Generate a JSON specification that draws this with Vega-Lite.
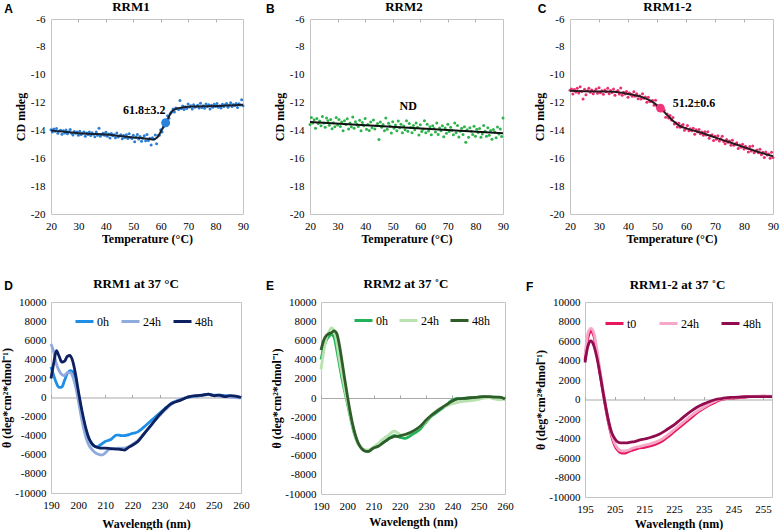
{
"$schema":"https://vega.github.io/schema/vega-lite/v6.json",
"background":"white",
"padding":{"left":0,"top":0,"right":0,"bottom":0},
"autosize":{"type":"pad"},
"columns":1,
"spacing":32,
"config":{
 "view":{"stroke":"#c4c4c4","strokeWidth":1},
 "font":"Liberation Serif, Times New Roman, serif",
 "axis":{"labelFont":"Liberation Serif, Times New Roman, serif","labelFontSize":11,"labelColor":"#000","titleFont":"Liberation Serif, Times New Roman, serif","titleFontSize":12,"titleFontWeight":"bold","titleColor":"#000","domain":false,"ticks":false,"grid":false,"labelOverlap":false,"labelFlush":false,"tickCount":30},
 "axisX":{"labelPadding":6,"titlePadding":2},
 "axisY":{"labelPadding":6,"titlePadding":3},
 "title":{"font":"Liberation Serif, Times New Roman, serif","fontSize":13,"fontWeight":"bold","color":"#000","anchor":"middle","frame":"group","baseline":"alphabetic","offset":-11},
 "legend":{"labelFont":"Liberation Serif, Times New Roman, serif","labelFontSize":12,"labelColor":"#000","symbolType":"stroke","symbolSize":324,"symbolStrokeWidth":3,"columnPadding":3,"labelOffset":2,"padding":0,"gridAlign":"none"}
},
"resolve":{"scale":{"color":"independent"},"legend":{"color":"independent"}},
"datasets":{
 "ptsA":[{"t":20,"v":-13.95},{"t":20.5,"v":-14.11},{"t":21,"v":-13.9},{"t":21.5,"v":-14.06},{"t":22,"v":-13.86},{"t":22.5,"v":-14.2},{"t":23,"v":-14.04},{"t":23.5,"v":-13.98},{"t":24,"v":-14.28},{"t":24.5,"v":-14.03},
 {"t":25,"v":-14.18},{"t":25.5,"v":-13.97},{"t":26,"v":-14.24},{"t":26.5,"v":-14.1},{"t":27,"v":-13.94},{"t":27.5,"v":-14.21},{"t":28,"v":-14.32},{"t":28.5,"v":-14.07},{"t":29,"v":-14.2},{"t":29.5,"v":-14.12},
 {"t":30,"v":-14.34},{"t":30.5,"v":-14.05},{"t":31,"v":-14.3},{"t":31.5,"v":-14.21},{"t":32,"v":-14.11},{"t":32.5,"v":-14.41},{"t":33,"v":-14.19},{"t":33.5,"v":-14.29},{"t":34,"v":-14.11},{"t":34.5,"v":-14.36},
 {"t":35,"v":-14.17},{"t":35.5,"v":-14.27},{"t":36,"v":-14.45},{"t":36.5,"v":-14.12},{"t":37,"v":-14.34},{"t":37.5,"v":-13.85},{"t":38,"v":-14.41},{"t":38.5,"v":-14.29},{"t":39,"v":-14.2},{"t":39.5,"v":-14.34},
 {"t":40,"v":-14.13},{"t":40.5,"v":-14.41},{"t":41,"v":-14.26},{"t":41.5,"v":-14.54},{"t":42,"v":-14.22},{"t":42.5,"v":-14.38},{"t":43,"v":-14.31},{"t":43.5,"v":-14.52},{"t":44,"v":-14.19},{"t":44.5,"v":-14.47},
 {"t":45,"v":-14.38},{"t":45.5,"v":-14.31},{"t":46,"v":-14.59},{"t":46.5,"v":-14.36},{"t":47,"v":-14.5},{"t":47.5,"v":-14.31},{"t":48,"v":-14.58},{"t":48.5,"v":-14.23},{"t":49,"v":-14.5},{"t":49.5,"v":-14.58},
 {"t":50,"v":-14.34},{"t":50.5,"v":-14.81},{"t":51,"v":-14.48},{"t":51.5,"v":-14.29},{"t":52,"v":-14.62},{"t":52.5,"v":-14.43},{"t":53,"v":-14.77},{"t":53.5,"v":-14.56},{"t":54,"v":-14.39},{"t":54.5,"v":-14.74},
 {"t":55,"v":-14.29},{"t":55.5,"v":-14.72},{"t":56,"v":-14.56},{"t":56.5,"v":-15.05},{"t":57,"v":-14.52},{"t":57.5,"v":-14.64},{"t":58,"v":-14.33},{"t":58.5,"v":-14.95},{"t":59,"v":-14.36},{"t":59.5,"v":-14.34},
 {"t":60,"v":-13.95},{"t":60.5,"v":-14.12},{"t":61,"v":-13.73},{"t":61.5,"v":-13.48},{"t":62,"v":-13.48},{"t":62.5,"v":-12.95},{"t":63,"v":-13.13},{"t":63.5,"v":-12.78},{"t":64,"v":-12.68},{"t":64.5,"v":-12.46},
 {"t":65,"v":-12.68},{"t":65.5,"v":-12.39},{"t":66,"v":-12.42},{"t":66.5,"v":-12.49},{"t":67,"v":-11.85},{"t":67.5,"v":-12.43},{"t":68,"v":-12.24},{"t":68.5,"v":-12.49},{"t":69,"v":-12.3},{"t":69.5,"v":-12.43},
 {"t":70,"v":-12.1},{"t":70.5,"v":-12.32},{"t":71,"v":-12.22},{"t":71.5,"v":-12.46},{"t":72,"v":-12.15},{"t":72.5,"v":-12.34},{"t":73,"v":-12.28},{"t":73.5,"v":-12.19},{"t":74,"v":-12.39},{"t":74.5,"v":-12.05},
 {"t":75,"v":-12.35},{"t":75.5,"v":-12.23},{"t":76,"v":-12.41},{"t":76.5,"v":-12.11},{"t":77,"v":-12.28},{"t":77.5,"v":-12.16},{"t":78,"v":-12.46},{"t":78.5,"v":-12.2},{"t":79,"v":-12.34},{"t":79.5,"v":-12.12},
 {"t":80,"v":-12.29},{"t":80.5,"v":-12.07},{"t":81,"v":-12.34},{"t":81.5,"v":-12.22},{"t":82,"v":-12.39},{"t":82.5,"v":-12.12},{"t":83,"v":-12.28},{"t":83.5,"v":-12.15},{"t":84,"v":-12.06},{"t":84.5,"v":-12.34},
 {"t":85,"v":-12.2},{"t":85.5,"v":-12.01},{"t":86,"v":-12.28},{"t":86.5,"v":-12.14},{"t":87,"v":-12.21},{"t":87.5,"v":-12.06},{"t":88,"v":-12.35},{"t":88.5,"v":-12.09},{"t":89,"v":-12.18},{"t":89.5,"v":-11.8},
 {"t":90,"v":-12.22}],
 "fitA":[{"t":20,"v":-14.0},{"t":25,"v":-14.1},{"t":30,"v":-14.2},{"t":35,"v":-14.25},{"t":40,"v":-14.3},{"t":45,"v":-14.4},{"t":50,"v":-14.5},{"t":55,"v":-14.6},{"t":57,"v":-14.65},{"t":58,"v":-14.6},{"t":59,"v":-14.45},{"t":60,"v":-14.1},{"t":61,"v":-13.75},{"t":62,"v":-13.4},{"t":63,"v":-13.0},{"t":64,"v":-12.65},{"t":65,"v":-12.5},{"t":66,"v":-12.42},{"t":68,"v":-12.35},{"t":70,"v":-12.3},{"t":80,"v":-12.25},{"t":90,"v":-12.15}],
 "tmA":[{"t":61.8,"v":-13.45,"lab":"61.8±3.2"}],
 "ptsB":[{"t":20,"v":-13.57},{"t":20.5,"v":-13.07},{"t":21,"v":-13.46},{"t":21.5,"v":-13.23},{"t":22,"v":-13.85},{"t":22.5,"v":-13.14},{"t":23,"v":-13.51},{"t":23.5,"v":-13.32},{"t":24,"v":-13.66},{"t":24.5,"v":-13.0},
 {"t":25,"v":-13.46},{"t":25.5,"v":-13.78},{"t":26,"v":-13.11},{"t":26.5,"v":-13.31},{"t":27,"v":-13.62},{"t":27.5,"v":-13.22},{"t":28,"v":-13.88},{"t":28.5,"v":-13.45},{"t":29,"v":-13.74},{"t":29.5,"v":-13.08},
 {"t":30,"v":-13.61},{"t":30.5,"v":-13.21},{"t":31,"v":-13.72},{"t":31.5,"v":-13.39},{"t":32,"v":-14.02},{"t":32.5,"v":-13.3},{"t":33,"v":-13.57},{"t":33.5,"v":-13.17},{"t":34,"v":-13.9},{"t":34.5,"v":-13.47},
 {"t":35,"v":-13.74},{"t":35.5,"v":-13.03},{"t":36,"v":-13.85},{"t":36.5,"v":-13.37},{"t":37,"v":-13.57},{"t":37.5,"v":-13.72},{"t":38,"v":-13.27},{"t":38.5,"v":-14.02},{"t":39,"v":-13.43},{"t":39.5,"v":-13.67},
 {"t":40,"v":-13.15},{"t":40.5,"v":-13.92},{"t":41,"v":-13.57},{"t":41.5,"v":-14.01},{"t":42,"v":-13.39},{"t":42.5,"v":-13.8},{"t":43,"v":-13.26},{"t":43.5,"v":-13.89},{"t":44,"v":-13.67},{"t":44.5,"v":-13.51},
 {"t":45,"v":-14.65},{"t":45.5,"v":-13.4},{"t":46,"v":-13.77},{"t":46.5,"v":-13.58},{"t":47,"v":-14.02},{"t":47.5,"v":-13.11},{"t":48,"v":-13.91},{"t":48.5,"v":-13.49},{"t":49,"v":-13.68},{"t":49.5,"v":-14.19},
 {"t":50,"v":-13.38},{"t":50.5,"v":-13.85},{"t":51,"v":-13.61},{"t":51.5,"v":-14.02},{"t":52,"v":-13.33},{"t":52.5,"v":-13.8},{"t":53,"v":-13.56},{"t":53.5,"v":-14.17},{"t":54,"v":-13.69},{"t":54.5,"v":-13.96},
 {"t":55,"v":-13.3},{"t":55.5,"v":-14.05},{"t":56,"v":-13.5},{"t":56.5,"v":-13.79},{"t":57,"v":-14.16},{"t":57.5,"v":-13.64},{"t":58,"v":-13.95},{"t":58.5,"v":-13.46},{"t":59,"v":-13.77},{"t":59.5,"v":-14.33},
 {"t":60,"v":-13.59},{"t":60.5,"v":-14.08},{"t":61,"v":-13.92},{"t":61.5,"v":-13.3},{"t":62,"v":-14.17},{"t":62.5,"v":-13.55},{"t":63,"v":-14.04},{"t":63.5,"v":-13.73},{"t":64,"v":-14.31},{"t":64.5,"v":-13.67},
 {"t":65,"v":-13.87},{"t":65.5,"v":-14.11},{"t":66,"v":-13.47},{"t":66.5,"v":-14.29},{"t":67,"v":-13.82},{"t":67.5,"v":-14.02},{"t":68,"v":-13.66},{"t":68.5,"v":-14.46},{"t":69,"v":-13.82},{"t":69.5,"v":-14.21},
 {"t":70,"v":-13.56},{"t":70.5,"v":-14.07},{"t":71,"v":-13.77},{"t":71.5,"v":-13.99},{"t":72,"v":-14.31},{"t":72.5,"v":-13.47},{"t":73,"v":-14.17},{"t":73.5,"v":-13.65},{"t":74,"v":-14.47},{"t":74.5,"v":-14.05},
 {"t":75,"v":-13.84},{"t":75.5,"v":-14.3},{"t":76,"v":-13.73},{"t":76.5,"v":-14.85},{"t":77,"v":-13.96},{"t":77.5,"v":-14.49},{"t":78,"v":-13.8},{"t":78.5,"v":-14.05},{"t":79,"v":-14.29},{"t":79.5,"v":-13.7},
 {"t":80,"v":-14.42},{"t":80.5,"v":-13.92},{"t":81,"v":-14.15},{"t":81.5,"v":-13.86},{"t":82,"v":-14.49},{"t":82.5,"v":-14.26},{"t":83,"v":-13.64},{"t":83.5,"v":-14.05},{"t":84,"v":-14.42},{"t":84.5,"v":-13.8},
 {"t":85,"v":-14.34},{"t":85.5,"v":-14.0},{"t":86,"v":-14.63},{"t":86.5,"v":-13.94},{"t":87,"v":-14.12},{"t":87.5,"v":-14.53},{"t":88,"v":-13.75},{"t":88.5,"v":-14.26},{"t":89,"v":-13.9},{"t":89.5,"v":-14.43},
 {"t":90,"v":-13.1}],
 "fitB":[{"t":20,"v":-13.4},{"t":90,"v":-14.2}],
 "ptsC":[{"t":20,"v":-11.12},{"t":20.5,"v":-11.02},{"t":21,"v":-11.38},{"t":21.5,"v":-11.07},{"t":22,"v":-11.24},{"t":22.5,"v":-10.98},{"t":23,"v":-11.32},{"t":23.5,"v":-10.86},{"t":24,"v":-11.2},{"t":24.5,"v":-11.75},
 {"t":25,"v":-11.04},{"t":25.5,"v":-11.44},{"t":26,"v":-11.15},{"t":26.5,"v":-10.98},{"t":27,"v":-11.25},{"t":27.5,"v":-11.09},{"t":28,"v":-11.37},{"t":28.5,"v":-11.18},{"t":29,"v":-11.03},{"t":29.5,"v":-11.33},
 {"t":30,"v":-10.93},{"t":30.5,"v":-11.29},{"t":31,"v":-11.15},{"t":31.5,"v":-11.41},{"t":32,"v":-11.09},{"t":32.5,"v":-11.22},{"t":33,"v":-10.98},{"t":33.5,"v":-11.36},{"t":34,"v":-11.14},{"t":34.5,"v":-11.27},
 {"t":35,"v":-11.03},{"t":35.5,"v":-11.48},{"t":36,"v":-11.22},{"t":36.5,"v":-11.13},{"t":37,"v":-11.38},{"t":37.5,"v":-10.96},{"t":38,"v":-11.47},{"t":38.5,"v":-11.26},{"t":39,"v":-11.38},{"t":39.5,"v":-11.2},
 {"t":40,"v":-11.61},{"t":40.5,"v":-11.31},{"t":41,"v":-11.42},{"t":41.5,"v":-11.55},{"t":42,"v":-11.23},{"t":42.5,"v":-11.55},{"t":43,"v":-11.36},{"t":43.5,"v":-11.72},{"t":44,"v":-11.51},{"t":44.5,"v":-11.74},
 {"t":45,"v":-11.37},{"t":45.5,"v":-11.69},{"t":46,"v":-11.6},{"t":46.5,"v":-11.97},{"t":47,"v":-11.62},{"t":47.5,"v":-11.92},{"t":48,"v":-11.89},{"t":48.5,"v":-11.86},{"t":49,"v":-12.19},{"t":49.5,"v":-11.83},
 {"t":50,"v":-12.29},{"t":50.5,"v":-12.24},{"t":51,"v":-12.57},{"t":51.5,"v":-12.28},{"t":52,"v":-12.59},{"t":52.5,"v":-12.56},{"t":53,"v":-13.05},{"t":53.5,"v":-12.82},{"t":54,"v":-13.1},{"t":54.5,"v":-12.93},
 {"t":55,"v":-13.25},{"t":55.5,"v":-13.07},{"t":56,"v":-13.53},{"t":56.5,"v":-13.45},{"t":57,"v":-13.76},{"t":57.5,"v":-13.48},{"t":58,"v":-13.78},{"t":58.5,"v":-13.65},{"t":59,"v":-13.58},{"t":59.5,"v":-13.98},
 {"t":60,"v":-13.85},{"t":60.5,"v":-13.64},{"t":61,"v":-14.03},{"t":61.5,"v":-13.88},{"t":62,"v":-14.02},{"t":62.5,"v":-13.85},{"t":63,"v":-14.27},{"t":63.5,"v":-13.96},{"t":64,"v":-14.12},{"t":64.5,"v":-13.94},
 {"t":65,"v":-14.24},{"t":65.5,"v":-14.12},{"t":66,"v":-14.35},{"t":66.5,"v":-14.1},{"t":67,"v":-14.33},{"t":67.5,"v":-14.09},{"t":68,"v":-14.56},{"t":68.5,"v":-14.37},{"t":69,"v":-14.31},{"t":69.5,"v":-14.73},
 {"t":70,"v":-14.42},{"t":70.5,"v":-14.64},{"t":71,"v":-14.39},{"t":71.5,"v":-14.76},{"t":72,"v":-14.6},{"t":72.5,"v":-14.42},{"t":73,"v":-14.79},{"t":73.5,"v":-14.95},{"t":74,"v":-14.65},{"t":74.5,"v":-14.84},
 {"t":75,"v":-14.76},{"t":75.5,"v":-15.07},{"t":76,"v":-14.71},{"t":76.5,"v":-15.07},{"t":77,"v":-14.98},{"t":77.5,"v":-14.88},{"t":78,"v":-15.29},{"t":78.5,"v":-15.04},{"t":79,"v":-15.2},{"t":79.5,"v":-15.0},
 {"t":80,"v":-15.34},{"t":80.5,"v":-15.13},{"t":81,"v":-15.28},{"t":81.5,"v":-15.55},{"t":82,"v":-15.15},{"t":82.5,"v":-15.47},{"t":83,"v":-15.12},{"t":83.5,"v":-15.61},{"t":84,"v":-15.48},{"t":84.5,"v":-15.4},
 {"t":85,"v":-15.6},{"t":85.5,"v":-15.36},{"t":86,"v":-15.74},{"t":86.5,"v":-15.56},{"t":87,"v":-15.94},{"t":87.5,"v":-15.54},{"t":88,"v":-15.77},{"t":88.5,"v":-15.7},{"t":89,"v":-15.99},{"t":89.5,"v":-15.57},
 {"t":90,"v":-15.95}],
 "fitC":[{"t":20,"v":-11.15},{"t":25,"v":-11.18},{"t":30,"v":-11.2},{"t":35,"v":-11.22},{"t":38,"v":-11.3},{"t":40,"v":-11.38},{"t":42,"v":-11.45},{"t":44,"v":-11.55},{"t":46,"v":-11.7},{"t":48,"v":-11.9},{"t":50,"v":-12.2},{"t":52,"v":-12.58},{"t":54,"v":-13.0},{"t":56,"v":-13.4},{"t":58,"v":-13.7},{"t":60,"v":-13.85},{"t":62,"v":-13.98},{"t":65,"v":-14.15},{"t":70,"v":-14.5},{"t":75,"v":-14.85},{"t":80,"v":-15.2},{"t":85,"v":-15.55},{"t":90,"v":-15.85}],
 "tmC":[{"t":51.2,"v":-12.4,"lab":"51.2±0.6"}],
 "D":[
 {"s":"0h","w":190,"v":3200},{"s":"0h","w":191,"v":2300},{"s":"0h","w":192,"v":1500},{"s":"0h","w":193,"v":1050},{"s":"0h","w":194,"v":1100},{"s":"0h","w":195,"v":1800},{"s":"0h","w":196,"v":2500},{"s":"0h","w":197,"v":2800},{"s":"0h","w":198,"v":2700},{"s":"0h","w":199,"v":1800},{"s":"0h","w":200,"v":500},{"s":"0h","w":201,"v":-1000},{"s":"0h","w":202,"v":-2500},{"s":"0h","w":203,"v":-3600},{"s":"0h","w":204,"v":-4300},{"s":"0h","w":205,"v":-4800},{"s":"0h","w":206,"v":-5100},{"s":"0h","w":207,"v":-5200},{"s":"0h","w":208,"v":-5000},{"s":"0h","w":209,"v":-4800},{"s":"0h","w":210,"v":-4600},{"s":"0h","w":211,"v":-4500},{"s":"0h","w":212,"v":-4400},{"s":"0h","w":213,"v":-4150},{"s":"0h","w":214,"v":-3950},{"s":"0h","w":215,"v":-3950},{"s":"0h","w":216,"v":-4000},{"s":"0h","w":217,"v":-4000},{"s":"0h","w":218,"v":-3950},{"s":"0h","w":219,"v":-3850},{"s":"0h","w":220,"v":-3750},{"s":"0h","w":221,"v":-3700},{"s":"0h","w":222,"v":-3600},{"s":"0h","w":223,"v":-3400},{"s":"0h","w":224,"v":-3150},{"s":"0h","w":225,"v":-2900},{"s":"0h","w":226,"v":-2650},{"s":"0h","w":227,"v":-2400},{"s":"0h","w":228,"v":-2150},{"s":"0h","w":229,"v":-1900},{"s":"0h","w":230,"v":-1650},{"s":"0h","w":231,"v":-1400},{"s":"0h","w":232,"v":-1150},{"s":"0h","w":233,"v":-950},{"s":"0h","w":234,"v":-700},{"s":"0h","w":235,"v":-500},{"s":"0h","w":236,"v":-400},{"s":"0h","w":237,"v":-300},{"s":"0h","w":238,"v":-200},{"s":"0h","w":239,"v":-100},{"s":"0h","w":240,"v":0},{"s":"0h","w":242,"v":100},{"s":"0h","w":244,"v":150},{"s":"0h","w":246,"v":250},{"s":"0h","w":248,"v":300},{"s":"0h","w":250,"v":250},{"s":"0h","w":252,"v":250},{"s":"0h","w":254,"v":200},{"s":"0h","w":256,"v":150},{"s":"0h","w":258,"v":100},{"s":"0h","w":260,"v":0},
 {"s":"24h","w":190,"v":5600},{"s":"24h","w":191,"v":4800},{"s":"24h","w":192,"v":3500},{"s":"24h","w":193,"v":2800},{"s":"24h","w":194,"v":2400},{"s":"24h","w":195,"v":2300},{"s":"24h","w":196,"v":2600},{"s":"24h","w":197,"v":2600},{"s":"24h","w":198,"v":2200},{"s":"24h","w":199,"v":1200},{"s":"24h","w":200,"v":-200},{"s":"24h","w":201,"v":-1800},{"s":"24h","w":202,"v":-3200},{"s":"24h","w":203,"v":-4300},{"s":"24h","w":204,"v":-5000},{"s":"24h","w":205,"v":-5400},{"s":"24h","w":206,"v":-5700},{"s":"24h","w":207,"v":-5900},{"s":"24h","w":208,"v":-6000},{"s":"24h","w":209,"v":-6000},{"s":"24h","w":210,"v":-5800},{"s":"24h","w":211,"v":-5500},{"s":"24h","w":212,"v":-5400},{"s":"24h","w":213,"v":-5350},{"s":"24h","w":215,"v":-5300},{"s":"24h","w":217,"v":-5300},{"s":"24h","w":219,"v":-5100},{"s":"24h","w":220,"v":-4900},{"s":"24h","w":222,"v":-4500},{"s":"24h","w":224,"v":-3900},{"s":"24h","w":226,"v":-3200},{"s":"24h","w":228,"v":-2500},{"s":"24h","w":230,"v":-1900},{"s":"24h","w":232,"v":-1300},{"s":"24h","w":234,"v":-800},{"s":"24h","w":236,"v":-400},{"s":"24h","w":238,"v":-150},{"s":"24h","w":240,"v":0},{"s":"24h","w":242,"v":100},{"s":"24h","w":244,"v":200},{"s":"24h","w":246,"v":300},{"s":"24h","w":248,"v":350},{"s":"24h","w":250,"v":200},{"s":"24h","w":252,"v":150},{"s":"24h","w":254,"v":100},{"s":"24h","w":256,"v":50},{"s":"24h","w":258,"v":0},{"s":"24h","w":260,"v":-50},
 {"s":"48h","w":190,"v":2000},{"s":"48h","w":191,"v":3600},{"s":"48h","w":192,"v":4900},{"s":"48h","w":193,"v":4300},{"s":"48h","w":194,"v":3700},{"s":"48h","w":195,"v":3800},{"s":"48h","w":196,"v":4300},{"s":"48h","w":197,"v":4400},{"s":"48h","w":198,"v":3800},{"s":"48h","w":199,"v":2500},{"s":"48h","w":200,"v":800},{"s":"48h","w":201,"v":-800},{"s":"48h","w":202,"v":-2200},{"s":"48h","w":203,"v":-3400},{"s":"48h","w":204,"v":-4300},{"s":"48h","w":205,"v":-4800},{"s":"48h","w":206,"v":-5100},{"s":"48h","w":207,"v":-5200},{"s":"48h","w":208,"v":-5300},{"s":"48h","w":210,"v":-5300},{"s":"48h","w":212,"v":-5350},{"s":"48h","w":214,"v":-5400},{"s":"48h","w":216,"v":-5450},{"s":"48h","w":217,"v":-5500},{"s":"48h","w":218,"v":-5350},{"s":"48h","w":219,"v":-5150},{"s":"48h","w":220,"v":-5000},{"s":"48h","w":222,"v":-4600},{"s":"48h","w":224,"v":-3900},{"s":"48h","w":226,"v":-3200},{"s":"48h","w":228,"v":-2500},{"s":"48h","w":230,"v":-1800},{"s":"48h","w":232,"v":-1200},{"s":"48h","w":234,"v":-700},{"s":"48h","w":236,"v":-450},{"s":"48h","w":238,"v":-250},{"s":"48h","w":240,"v":0},{"s":"48h","w":242,"v":150},{"s":"48h","w":244,"v":200},{"s":"48h","w":246,"v":250},{"s":"48h","w":248,"v":350},{"s":"48h","w":250,"v":200},{"s":"48h","w":252,"v":250},{"s":"48h","w":254,"v":100},{"s":"48h","w":256,"v":200},{"s":"48h","w":258,"v":150},{"s":"48h","w":260,"v":0}],
 "E":[
 {"s":"0h","w":190,"v":4000},{"s":"0h","w":191,"v":5200},{"s":"0h","w":192,"v":6000},{"s":"0h","w":193,"v":6400},{"s":"0h","w":194,"v":6600},{"s":"0h","w":195,"v":6300},{"s":"0h","w":196,"v":5000},{"s":"0h","w":197,"v":3500},{"s":"0h","w":198,"v":2000},{"s":"0h","w":199,"v":700},{"s":"0h","w":200,"v":-500},{"s":"0h","w":201,"v":-1800},{"s":"0h","w":202,"v":-3000},{"s":"0h","w":203,"v":-4000},{"s":"0h","w":204,"v":-4700},{"s":"0h","w":205,"v":-5100},{"s":"0h","w":206,"v":-5400},{"s":"0h","w":207,"v":-5500},{"s":"0h","w":208,"v":-5550},{"s":"0h","w":209,"v":-5400},{"s":"0h","w":210,"v":-5200},{"s":"0h","w":211,"v":-5100},{"s":"0h","w":212,"v":-4900},{"s":"0h","w":213,"v":-4700},{"s":"0h","w":214,"v":-4550},{"s":"0h","w":215,"v":-4400},{"s":"0h","w":216,"v":-4200},{"s":"0h","w":217,"v":-4000},{"s":"0h","w":218,"v":-3900},{"s":"0h","w":219,"v":-4000},{"s":"0h","w":220,"v":-4100},{"s":"0h","w":221,"v":-4150},{"s":"0h","w":222,"v":-4200},{"s":"0h","w":223,"v":-4100},{"s":"0h","w":224,"v":-3950},{"s":"0h","w":225,"v":-3750},{"s":"0h","w":226,"v":-3600},{"s":"0h","w":227,"v":-3400},{"s":"0h","w":228,"v":-3150},{"s":"0h","w":229,"v":-2800},{"s":"0h","w":230,"v":-2500},{"s":"0h","w":231,"v":-2200},{"s":"0h","w":232,"v":-1900},{"s":"0h","w":233,"v":-1700},{"s":"0h","w":234,"v":-1500},{"s":"0h","w":235,"v":-1300},{"s":"0h","w":236,"v":-1100},{"s":"0h","w":237,"v":-900},{"s":"0h","w":238,"v":-700},{"s":"0h","w":239,"v":-400},{"s":"0h","w":240,"v":-200},{"s":"0h","w":242,"v":-50},{"s":"0h","w":244,"v":-100},{"s":"0h","w":246,"v":0},{"s":"0h","w":248,"v":50},{"s":"0h","w":250,"v":100},{"s":"0h","w":252,"v":150},{"s":"0h","w":254,"v":100},{"s":"0h","w":256,"v":100},{"s":"0h","w":258,"v":50},{"s":"0h","w":260,"v":-100},
 {"s":"24h","w":190,"v":3000},{"s":"24h","w":191,"v":4800},{"s":"24h","w":192,"v":6200},{"s":"24h","w":193,"v":6900},{"s":"24h","w":194,"v":7300},{"s":"24h","w":195,"v":7000},{"s":"24h","w":196,"v":5800},{"s":"24h","w":197,"v":4000},{"s":"24h","w":198,"v":2500},{"s":"24h","w":199,"v":1000},{"s":"24h","w":200,"v":-300},{"s":"24h","w":201,"v":-1600},{"s":"24h","w":202,"v":-2900},{"s":"24h","w":203,"v":-3900},{"s":"24h","w":204,"v":-4700},{"s":"24h","w":205,"v":-5100},{"s":"24h","w":206,"v":-5300},{"s":"24h","w":207,"v":-5400},{"s":"24h","w":208,"v":-5400},{"s":"24h","w":209,"v":-5300},{"s":"24h","w":210,"v":-5100},{"s":"24h","w":211,"v":-4900},{"s":"24h","w":212,"v":-4700},{"s":"24h","w":213,"v":-4400},{"s":"24h","w":214,"v":-4200},{"s":"24h","w":215,"v":-4000},{"s":"24h","w":216,"v":-3800},{"s":"24h","w":217,"v":-3550},{"s":"24h","w":218,"v":-3450},{"s":"24h","w":219,"v":-3600},{"s":"24h","w":220,"v":-3800},{"s":"24h","w":221,"v":-3850},{"s":"24h","w":222,"v":-3850},{"s":"24h","w":224,"v":-3600},{"s":"24h","w":226,"v":-3300},{"s":"24h","w":228,"v":-2900},{"s":"24h","w":230,"v":-2400},{"s":"24h","w":232,"v":-1800},{"s":"24h","w":234,"v":-1300},{"s":"24h","w":236,"v":-1000},{"s":"24h","w":238,"v":-800},{"s":"24h","w":240,"v":-600},{"s":"24h","w":242,"v":-450},{"s":"24h","w":244,"v":-350},{"s":"24h","w":246,"v":-300},{"s":"24h","w":248,"v":-250},{"s":"24h","w":250,"v":-150},{"s":"24h","w":252,"v":0},{"s":"24h","w":254,"v":50},{"s":"24h","w":256,"v":-100},{"s":"24h","w":258,"v":-200},{"s":"24h","w":260,"v":-150},
 {"s":"48h","w":190,"v":5000},{"s":"48h","w":191,"v":6000},{"s":"48h","w":192,"v":6500},{"s":"48h","w":193,"v":6700},{"s":"48h","w":194,"v":6800},{"s":"48h","w":195,"v":7000},{"s":"48h","w":196,"v":6700},{"s":"48h","w":197,"v":5500},{"s":"48h","w":198,"v":3800},{"s":"48h","w":199,"v":2000},{"s":"48h","w":200,"v":300},{"s":"48h","w":201,"v":-1300},{"s":"48h","w":202,"v":-2700},{"s":"48h","w":203,"v":-3800},{"s":"48h","w":204,"v":-4600},{"s":"48h","w":205,"v":-5100},{"s":"48h","w":206,"v":-5400},{"s":"48h","w":207,"v":-5550},{"s":"48h","w":208,"v":-5550},{"s":"48h","w":209,"v":-5400},{"s":"48h","w":210,"v":-5200},{"s":"48h","w":211,"v":-5100},{"s":"48h","w":212,"v":-5000},{"s":"48h","w":213,"v":-4800},{"s":"48h","w":214,"v":-4600},{"s":"48h","w":215,"v":-4400},{"s":"48h","w":216,"v":-4200},{"s":"48h","w":217,"v":-4100},{"s":"48h","w":218,"v":-4000},{"s":"48h","w":219,"v":-4000},{"s":"48h","w":220,"v":-3950},{"s":"48h","w":222,"v":-3800},{"s":"48h","w":224,"v":-3600},{"s":"48h","w":226,"v":-3300},{"s":"48h","w":228,"v":-2900},{"s":"48h","w":230,"v":-2300},{"s":"48h","w":232,"v":-1800},{"s":"48h","w":234,"v":-1400},{"s":"48h","w":236,"v":-1000},{"s":"48h","w":238,"v":-650},{"s":"48h","w":240,"v":-300},{"s":"48h","w":242,"v":-100},{"s":"48h","w":244,"v":-50},{"s":"48h","w":246,"v":0},{"s":"48h","w":248,"v":50},{"s":"48h","w":250,"v":100},{"s":"48h","w":252,"v":150},{"s":"48h","w":254,"v":150},{"s":"48h","w":256,"v":100},{"s":"48h","w":258,"v":100},{"s":"48h","w":260,"v":-100}],
 "F":[
 {"s":"t0","w":195,"v":4000},{"s":"t0","w":196,"v":6300},{"s":"t0","w":197,"v":7000},{"s":"t0","w":198,"v":6500},{"s":"t0","w":199,"v":4800},{"s":"t0","w":200,"v":2800},{"s":"t0","w":201,"v":900},{"s":"t0","w":202,"v":-900},{"s":"t0","w":203,"v":-2500},{"s":"t0","w":204,"v":-3800},{"s":"t0","w":205,"v":-4700},{"s":"t0","w":206,"v":-5200},{"s":"t0","w":207,"v":-5450},{"s":"t0","w":208,"v":-5500},{"s":"t0","w":209,"v":-5450},{"s":"t0","w":210,"v":-5300},{"s":"t0","w":211,"v":-5200},{"s":"t0","w":212,"v":-5100},{"s":"t0","w":213,"v":-5000},{"s":"t0","w":215,"v":-4900},{"s":"t0","w":217,"v":-4750},{"s":"t0","w":219,"v":-4550},{"s":"t0","w":221,"v":-4250},{"s":"t0","w":223,"v":-3800},{"s":"t0","w":225,"v":-3300},{"s":"t0","w":227,"v":-2800},{"s":"t0","w":229,"v":-2300},{"s":"t0","w":231,"v":-1800},{"s":"t0","w":233,"v":-1300},{"s":"t0","w":235,"v":-900},{"s":"t0","w":237,"v":-550},{"s":"t0","w":239,"v":-250},{"s":"t0","w":241,"v":0},{"s":"t0","w":243,"v":100},{"s":"t0","w":245,"v":150},{"s":"t0","w":247,"v":200},{"s":"t0","w":249,"v":250},{"s":"t0","w":251,"v":300},{"s":"t0","w":253,"v":300},{"s":"t0","w":255,"v":350},{"s":"t0","w":258,"v":300},
 {"s":"24h","w":195,"v":4500},{"s":"24h","w":196,"v":6800},{"s":"24h","w":197,"v":7300},{"s":"24h","w":198,"v":6800},{"s":"24h","w":199,"v":5200},{"s":"24h","w":200,"v":3100},{"s":"24h","w":201,"v":1100},{"s":"24h","w":202,"v":-700},{"s":"24h","w":203,"v":-2300},{"s":"24h","w":204,"v":-3600},{"s":"24h","w":205,"v":-4500},{"s":"24h","w":206,"v":-5000},{"s":"24h","w":207,"v":-5250},{"s":"24h","w":208,"v":-5300},{"s":"24h","w":209,"v":-5250},{"s":"24h","w":210,"v":-5150},{"s":"24h","w":211,"v":-5000},{"s":"24h","w":212,"v":-4900},{"s":"24h","w":213,"v":-4850},{"s":"24h","w":215,"v":-4700},{"s":"24h","w":217,"v":-4550},{"s":"24h","w":219,"v":-4350},{"s":"24h","w":221,"v":-4050},{"s":"24h","w":223,"v":-3600},{"s":"24h","w":225,"v":-3100},{"s":"24h","w":227,"v":-2600},{"s":"24h","w":229,"v":-2100},{"s":"24h","w":231,"v":-1600},{"s":"24h","w":233,"v":-1150},{"s":"24h","w":235,"v":-800},{"s":"24h","w":237,"v":-450},{"s":"24h","w":239,"v":-150},{"s":"24h","w":241,"v":50},{"s":"24h","w":243,"v":150},{"s":"24h","w":245,"v":200},{"s":"24h","w":247,"v":250},{"s":"24h","w":249,"v":300},{"s":"24h","w":251,"v":300},{"s":"24h","w":253,"v":350},{"s":"24h","w":255,"v":350},{"s":"24h","w":258,"v":350},
 {"s":"48h","w":195,"v":3800},{"s":"48h","w":196,"v":5500},{"s":"48h","w":197,"v":6000},{"s":"48h","w":198,"v":5500},{"s":"48h","w":199,"v":4300},{"s":"48h","w":200,"v":2700},{"s":"48h","w":201,"v":900},{"s":"48h","w":202,"v":-800},{"s":"48h","w":203,"v":-2300},{"s":"48h","w":204,"v":-3400},{"s":"48h","w":205,"v":-4000},{"s":"48h","w":206,"v":-4350},{"s":"48h","w":207,"v":-4450},{"s":"48h","w":208,"v":-4450},{"s":"48h","w":209,"v":-4450},{"s":"48h","w":210,"v":-4400},{"s":"48h","w":211,"v":-4350},{"s":"48h","w":212,"v":-4300},{"s":"48h","w":213,"v":-4200},{"s":"48h","w":215,"v":-4050},{"s":"48h","w":217,"v":-3900},{"s":"48h","w":219,"v":-3700},{"s":"48h","w":221,"v":-3400},{"s":"48h","w":223,"v":-3000},{"s":"48h","w":225,"v":-2600},{"s":"48h","w":227,"v":-2100},{"s":"48h","w":229,"v":-1600},{"s":"48h","w":231,"v":-1150},{"s":"48h","w":233,"v":-750},{"s":"48h","w":235,"v":-450},{"s":"48h","w":237,"v":-200},{"s":"48h","w":239,"v":0},{"s":"48h","w":241,"v":100},{"s":"48h","w":243,"v":200},{"s":"48h","w":245,"v":220},{"s":"48h","w":247,"v":250},{"s":"48h","w":249,"v":280},{"s":"48h","w":251,"v":300},{"s":"48h","w":253,"v":300},{"s":"48h","w":255,"v":300},{"s":"48h","w":258,"v":300}]
},
"concat":[
 {"hconcat":[
  {"width":192,"height":195,"title":{"text":"RRM1","dx":-16},
   "layer":[
    {"data":{"name":"ptsA"},"mark":{"type":"circle","size":9,"color":"#2b7fd4","opacity":1},
     "encoding":{"x":{"field":"t","type":"quantitative","scale":{"domain":[20,90],"nice":false},"axis":{"values":[20,30,40,50,60,70,80,90],"tickCount":30,"title":"Temperature (°C)"}},
      "y":{"field":"v","type":"quantitative","scale":{"domain":[-20,-6],"nice":false},"axis":{"values":[-20,-18,-16,-14,-12,-10,-8,-6],"tickCount":30,"labelOverlap":false,"labelExpr":"datum.value + ''","title":"CD mdeg"}}}},
    {"data":{"name":"fitA"},"mark":{"type":"line","color":"#1a1f2e","strokeWidth":2,"interpolate":"monotone"},
     "encoding":{"x":{"field":"t","type":"quantitative","axis":null},"y":{"field":"v","type":"quantitative"}}},
    {"data":{"name":"tmA"},"mark":{"type":"circle","size":80,"color":"#2a83d8","opacity":1},
     "encoding":{"x":{"field":"t","type":"quantitative","axis":null},"y":{"field":"v","type":"quantitative"}}},
    {"data":{"name":"tmA"},"mark":{"type":"text","font":"Liberation Serif, Times New Roman, serif","fontSize":12,"fontWeight":"bold","dx":-21.4,"dy":-12.5},
     "encoding":{"x":{"field":"t","type":"quantitative","axis":null},"y":{"field":"v","type":"quantitative"},"text":{"field":"lab"}}},
    {"data":{"values":[{"p":"A"}]},"mark":{"type":"text","font":"Liberation Sans, Arial, sans-serif","fontSize":12,"fontWeight":"bold","align":"left","baseline":"alphabetic"},
     "encoding":{"x":{"datum":3.0,"type":"quantitative","axis":{"orient":"bottom","offset":-195,"labels":false,"ticks":true,"tickSize":3,"tickColor":"#b0b0b0","values":[30,40,50,60,70,80],"tickCount":30,"title":null}},"y":{"datum":-5.57,"type":"quantitative"},"text":{"field":"p"}}}
   ],
   "resolve":{"axis":{"x":"independent"}}},
  {"width":193,"height":195,"title":{"text":"RRM2","dx":-2.5},
   "layer":[
    {"data":{"name":"ptsB"},"mark":{"type":"circle","size":9,"color":"#2fb34c","opacity":1},
     "encoding":{"x":{"field":"t","type":"quantitative","scale":{"domain":[20,90],"nice":false},"axis":{"values":[20,30,40,50,60,70,80,90],"tickCount":30,"title":"Temperature (°C)"}},
      "y":{"field":"v","type":"quantitative","scale":{"domain":[-20,-6],"nice":false},"axis":{"values":[-20,-18,-16,-14,-12,-10,-8,-6],"tickCount":30,"labelOverlap":false,"labelExpr":"datum.value + ''","title":"CD mdeg"}}}},
    {"data":{"name":"fitB"},"mark":{"type":"line","color":"#111111","strokeWidth":2},
     "encoding":{"x":{"field":"t","type":"quantitative","axis":null},"y":{"field":"v","type":"quantitative"}}},
    {"data":{"values":[{"lab":"ND"}]},"mark":{"type":"text","font":"Liberation Serif, Times New Roman, serif","fontSize":12,"fontWeight":"bold"},
     "encoding":{"x":{"datum":55.6,"type":"quantitative","axis":null},"y":{"datum":-12.25,"type":"quantitative"},"text":{"field":"lab"}}},
    {"data":{"values":[{"p":"B"}]},"mark":{"type":"text","font":"Liberation Sans, Arial, sans-serif","fontSize":12,"fontWeight":"bold","align":"left","baseline":"alphabetic"},
     "encoding":{"x":{"datum":4.04,"type":"quantitative","axis":{"orient":"bottom","offset":-195,"labels":false,"ticks":true,"tickSize":3,"tickColor":"#b0b0b0","values":[30,40,50,60,70,80],"tickCount":30,"title":null}},"y":{"datum":-5.59,"type":"quantitative"},"text":{"field":"p"}}}
   ],
   "resolve":{"axis":{"x":"independent"}}},
  {"width":203,"height":195,"title":{"text":"RRM1-2","dx":-4},
   "layer":[
    {"data":{"name":"ptsC"},"mark":{"type":"circle","size":9,"color":"#e8306f","opacity":1},
     "encoding":{"x":{"field":"t","type":"quantitative","scale":{"domain":[20,90],"nice":false},"axis":{"values":[20,30,40,50,60,70,80,90],"tickCount":30,"title":"Temperature (°C)"}},
      "y":{"field":"v","type":"quantitative","scale":{"domain":[-20,-6],"nice":false},"axis":{"values":[-20,-18,-16,-14,-12,-10,-8,-6],"tickCount":30,"labelOverlap":false,"labelExpr":"datum.value + ''","title":"CD mdeg"}}}},
    {"data":{"name":"fitC"},"mark":{"type":"line","color":"#2a1a20","strokeWidth":2,"interpolate":"monotone"},
     "encoding":{"x":{"field":"t","type":"quantitative","axis":null},"y":{"field":"v","type":"quantitative"}}},
    {"data":{"name":"tmC"},"mark":{"type":"circle","size":75,"color":"#f0357a","opacity":1},
     "encoding":{"x":{"field":"t","type":"quantitative","axis":null},"y":{"field":"v","type":"quantitative"}}},
    {"data":{"name":"tmC"},"mark":{"type":"text","font":"Liberation Serif, Times New Roman, serif","fontSize":12,"fontWeight":"bold","dx":33.6,"dy":-4.9},
     "encoding":{"x":{"field":"t","type":"quantitative","axis":null},"y":{"field":"v","type":"quantitative"},"text":{"field":"lab"}}},
    {"data":{"values":[{"p":"C"}]},"mark":{"type":"text","font":"Liberation Sans, Arial, sans-serif","fontSize":12,"fontWeight":"bold","align":"left","baseline":"alphabetic"},
     "encoding":{"x":{"datum":8.9,"type":"quantitative","axis":{"orient":"bottom","offset":-195,"labels":false,"ticks":true,"tickSize":3,"tickColor":"#b0b0b0","values":[30,40,50,60,70,80],"tickCount":30,"title":null}},"y":{"datum":-5.54,"type":"quantitative"},"text":{"field":"p"}}}
   ],
   "resolve":{"axis":{"x":"independent"}}}
 ],"spacing":67,"bounds":"flush"},
 {"hconcat":[
  {"width":190,"height":191,"title":{"text":"RRM1 at 37 °C","dx":-10},
   "layer":[
    {"data":{"name":"D"},"mark":{"type":"line","strokeWidth":2.8,"interpolate":"monotone"},
     "encoding":{"x":{"field":"w","type":"quantitative","scale":{"domain":[190,260],"nice":false},"axis":{"values":[190,200,210,220,230,240,250,260],"tickCount":30,"title":"Wavelength (nm)","titlePadding":8.5}},
      "y":{"field":"v","type":"quantitative","scale":{"domain":[-10000,10000],"nice":false},"axis":{"values":[-10000,-8000,-6000,-4000,-2000,0,2000,4000,6000,8000,10000],"tickCount":30,"labelOverlap":false,"labelPadding":5,"titlePadding":1,"labelExpr":"datum.value + ''","title":"θ (deg*cm²*dmol⁻¹)"}},
      "color":{"field":"s","type":"nominal","sort":null,"scale":{"domain":["0h","24h","48h"],"range":["#1f8ee6","#8faadc","#0d2060"]},"legend":{"title":null,"orient":"none","legendX":23,"legendY":9,"direction":"horizontal","columnPadding":6}}}},
    {"data":{"values":[{"p":"D"}]},"mark":{"type":"text","font":"Liberation Sans, Arial, sans-serif","fontSize":12,"fontWeight":"bold","align":"left","baseline":"alphabetic"},
     "encoding":{"x":{"datum":172.8,"type":"quantitative","axis":{"orient":"top","offset":-95.5,"labels":false,"domain":true,"domainColor":"#a8a8a8","ticks":true,"tickSize":3,"tickColor":"#a8a8a8","values":[190,200,210,220,230,240,250,260],"tickCount":30,"title":null}},"y":{"datum":11257,"type":"quantitative"},"text":{"field":"p"}}}
   ],
   "resolve":{"axis":{"x":"independent"}}},
  {"width":184,"height":192,"title":{"text":"RRM2 at 37 ˚C","dx":-7},
   "layer":[
    {"data":{"name":"E"},"mark":{"type":"line","strokeWidth":2.8,"interpolate":"monotone"},
     "encoding":{"x":{"field":"w","type":"quantitative","scale":{"domain":[190,260],"nice":false},"axis":{"values":[190,200,210,220,230,240,250,260],"tickCount":30,"title":"Wavelength (nm)","titlePadding":5.5}},
      "y":{"field":"v","type":"quantitative","scale":{"domain":[-10000,10000],"nice":false},"axis":{"values":[-10000,-8000,-6000,-4000,-2000,0,2000,4000,6000,8000,10000],"tickCount":30,"labelOverlap":false,"labelPadding":5,"titlePadding":1,"labelExpr":"datum.value + ''","title":"θ (deg*cm²*dmol⁻¹)"}},
      "color":{"field":"s","type":"nominal","sort":null,"scale":{"domain":["0h","24h","48h"],"range":["#22b35a","#b8e2ae","#2f5d2a"]},"legend":{"title":null,"orient":"none","legendX":32,"legendY":8,"direction":"horizontal","columnPadding":5}}}},
    {"data":{"values":[{"p":"E"}]},"mark":{"type":"text","font":"Liberation Sans, Arial, sans-serif","fontSize":12,"fontWeight":"bold","align":"left","baseline":"alphabetic"},
     "encoding":{"x":{"datum":169.1,"type":"quantitative","axis":{"orient":"top","offset":-96,"labels":false,"domain":true,"domainColor":"#a8a8a8","ticks":true,"tickSize":3,"tickColor":"#a8a8a8","values":[190,200,210,220,230,240,250,260],"tickCount":30,"title":null}},"y":{"datum":11250,"type":"quantitative"},"text":{"field":"p"}}}
   ],
   "resolve":{"axis":{"x":"independent"}}},
  {"width":187,"height":195,"title":{"text":"RRM1-2 at 37 ˚C","dx":-1},
   "layer":[
    {"data":{"name":"F"},"mark":{"type":"line","strokeWidth":2.8,"interpolate":"monotone"},
     "encoding":{"x":{"field":"w","type":"quantitative","scale":{"domain":[195,258],"nice":false},"axis":{"values":[195,205,215,225,235,245,255],"tickCount":30,"title":"Wavelength (nm)","titlePadding":4.5}},
      "y":{"field":"v","type":"quantitative","scale":{"domain":[-10000,10000],"nice":false},"axis":{"values":[-10000,-8000,-6000,-4000,-2000,0,2000,4000,6000,8000,10000],"tickCount":30,"labelOverlap":false,"labelPadding":5,"titlePadding":1,"labelExpr":"datum.value + ''","title":"θ (deg*cm²*dmol⁻¹)"}},
      "color":{"field":"s","type":"nominal","sort":null,"scale":{"domain":["t0","24h","48h"],"range":["#e8175d","#f7a8c8","#900c4e"]},"legend":{"title":null,"orient":"none","legendX":19,"legendY":11,"direction":"horizontal","columnPadding":16}}}},
    {"data":{"values":[{"p":"F"}]},"mark":{"type":"text","font":"Liberation Sans, Arial, sans-serif","fontSize":12,"fontWeight":"bold","align":"left","baseline":"alphabetic"},
     "encoding":{"x":{"datum":175.1,"type":"quantitative","axis":{"orient":"top","offset":-97.5,"labels":false,"domain":true,"domainColor":"#a8a8a8","ticks":true,"tickSize":3,"tickColor":"#a8a8a8","values":[195,205,215,225,235,245,255],"tickCount":30,"title":null}},"y":{"datum":11160,"type":"quantitative"},"text":{"field":"p"}}}
   ],
   "resolve":{"axis":{"x":"independent"}}}
 ],"spacing":80,"bounds":"flush","resolve":{"scale":{"color":"independent"},"legend":{"color":"independent"}}}
]
}
